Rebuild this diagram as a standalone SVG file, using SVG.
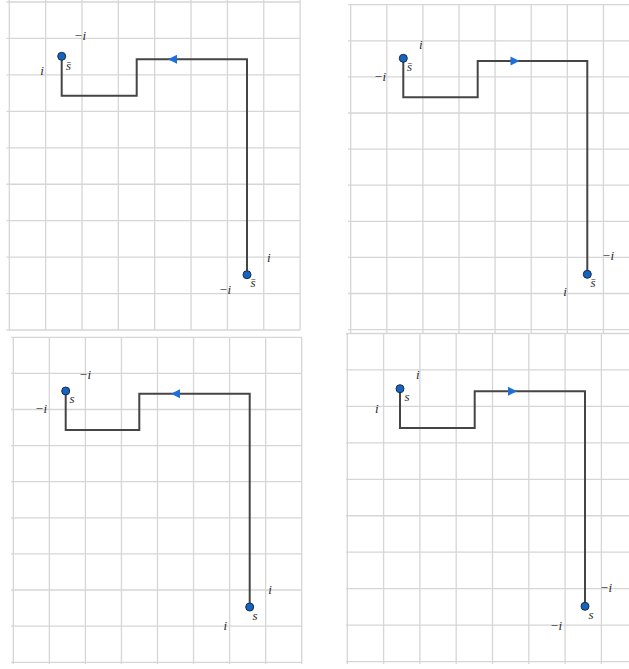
<svg xmlns="http://www.w3.org/2000/svg" xmlns:xlink="http://www.w3.org/1999/xlink" width="629" height="669" viewBox="0 0 629 669">
<style>
.grid{stroke:#d6d6d6;stroke-width:1.3;fill:none}
.path{stroke:#454545;stroke-width:2;fill:none;stroke-linejoin:miter}
.pt{fill:#1565c0;stroke:#1b2b48;stroke-width:1}
.arr{fill:#1f6fd6}
text{font-family:'Liberation Serif','DejaVu Serif',serif;font-style:italic;font-size:13px;fill:#2a2a2a;text-anchor:middle}
</style>
<defs>
<polygon id="arrL" class="arr" points="-4.5,0 4.5,-4.5 4.5,4.5"/>
<polygon id="arrR" class="arr" points="4.5,0 -4.5,-4.5 -4.5,4.5"/>
</defs>
<rect width="629" height="669" fill="#fff"/>

<g id="grid1" class="grid">
<path d="M9.3 0V330M45.65 0V330M82 0V330M118.35 0V330M154.7 0V330M191.05 0V330M227.4 0V330M263.75 0V330M300.1 0V330"/>
<path d="M6.5 2H300.1M6.5 38.45H300.1M6.5 74.9H300.1M6.5 111.35H300.1M6.5 147.8H300.1M6.5 184.25H300.1M6.5 220.7H300.1M6.5 257.15H300.1M6.5 293.6H300.1M6.5 330H300.1"/>
</g>
<g id="grid2" class="grid">
<path d="M350.7 4.7V333M386.8 4.7V333M422.9 4.7V333M459 4.7V333M495.1 4.7V333M531.2 4.7V333M567.3 4.7V333M603.4 4.7V333"/>
<path d="M348 4.7H629M348 40.8H629M348 76.9H629M348 113H629M348 149.1H629M348 185.2H629M348 221.3H629M348 257.4H629M348 293.5H629M348 329.7H629"/>
</g>
<g id="grid3" class="grid">
<path d="M13.3 337.3V664M49.35 337.3V664M85.4 337.3V664M121.45 337.3V664M157.5 337.3V664M193.55 337.3V664M229.6 337.3V664M265.65 337.3V664M301.7 337.3V664"/>
<path d="M11 337.3H302M11 373.4H302M11 409.5H302M11 445.6H302M11 481.7H302M11 517.8H302M11 553.9H302M11 590H302M11 626.1H302M11 662.3H302"/>
</g>
<g id="grid4" class="grid">
<path d="M347.3 333.5V664M383.6 333.5V664M419.9 333.5V664M456.2 333.5V664M492.5 333.5V664M528.8 333.5V664M565.1 333.5V664M601.4 333.5V664"/>
<path d="M346 333.5H629M346 369.95H629M346 406.4H629M346 442.85H629M346 479.3H629M346 515.75H629M346 552.2H629M346 588.65H629M346 625.1H629M346 661.6H629"/>
</g>

<g id="connectors">
<path class="path" d="M61.7 56.3V95.7H136.7V59.3H247V274.7"/>
<use xlink:href="#arrL" href="#arrL" x="172.5" y="59.3"/>
<path class="path" d="M403.3 58.3V97.3H477.7V61H587.3V274.3"/>
<use xlink:href="#arrR" href="#arrR" x="515" y="61"/>
<path class="path" d="M65.7 391V430H139.3V393.7H249.7V607"/>
<use xlink:href="#arrL" href="#arrL" x="175.5" y="393.7"/>
<path class="path" d="M400 388.7V428H474.7V391.3H585V606.3"/>
<use xlink:href="#arrR" href="#arrR" x="512.5" y="391.3"/>
</g>

<g id="p1-start">
<circle class="pt" cx="61.7" cy="56.3" r="4"/>
<text x="68.5" y="69.5">s̄</text>
<text x="80" y="40">−i</text>
<text x="42" y="75">i</text>
</g>
<g id="p1-end">
<circle class="pt" cx="247" cy="274.7" r="4"/>
<text x="253" y="287">s̄</text>
<text x="268.7" y="262">i</text>
<text x="225" y="294">−i</text>
</g>

<g id="p2-start">
<circle class="pt" cx="403.3" cy="58.3" r="4"/>
<text x="409.5" y="70.5">s̄</text>
<text x="420.7" y="49">i</text>
<text x="380" y="80.5">−i</text>
</g>
<g id="p2-end">
<circle class="pt" cx="587.3" cy="274.3" r="4"/>
<text x="593" y="286.5">s̄</text>
<text x="608" y="260">−i</text>
<text x="565" y="295.5">i</text>
</g>

<g id="p3-start">
<circle class="pt" cx="65.7" cy="391" r="4"/>
<text x="72" y="403">s</text>
<text x="85" y="379">−i</text>
<text x="41" y="412.5">−i</text>
</g>
<g id="p3-end">
<circle class="pt" cx="249.7" cy="607" r="4"/>
<text x="255" y="620">s</text>
<text x="270" y="594">i</text>
<text x="225.3" y="630">i</text>
</g>

<g id="p4-start">
<circle class="pt" cx="400" cy="388.7" r="4"/>
<text x="407" y="400.5">s</text>
<text x="417.7" y="379">i</text>
<text x="376.7" y="413">i</text>
</g>
<g id="p4-end">
<circle class="pt" cx="585" cy="606.3" r="4"/>
<text x="591" y="619">s</text>
<text x="606" y="591.5">−i</text>
<text x="556" y="629.5">−i</text>
</g>
</svg>
